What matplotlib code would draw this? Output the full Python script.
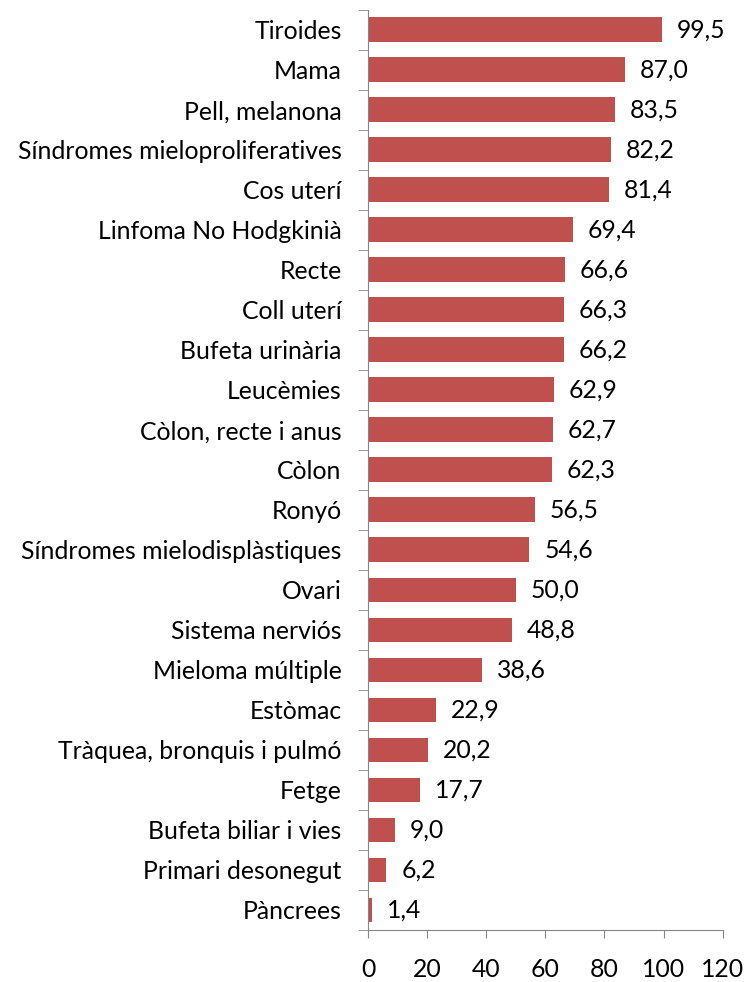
import matplotlib
matplotlib.use('Agg')
import matplotlib.pyplot as plt
import numpy as np

categories = ['Tiroides', 'Mama', 'Pell, melanona', 'Síndromes mieloproliferatives',
              'Cos uterí', 'Linfoma No Hodgkinià', 'Recte', 'Coll uterí',
              'Bufeta urinària', 'Leucèmies', 'Còlon, recte i anus', 'Còlon',
              'Ronyó', 'Síndromes mielodisplàstiques', 'Ovari', 'Sistema nerviós',
              'Mieloma múltiple', 'Estòmac', 'Tràquea, bronquis i pulmó', 'Fetge',
              'Bufeta biliar i vies', 'Primari desonegut', 'Pàncrees']
values = [99.5, 87.0, 83.5, 82.2, 81.4, 69.4, 66.6, 66.3, 66.2, 62.9, 62.7, 62.3,
          56.5, 54.6, 50.0, 48.8, 38.6, 22.9, 20.2, 17.7, 9.0, 6.2, 1.4]
xticks = [0, 20, 40, 60, 80, 100, 120]

plt.rcParams['font.family'] = ['Lato', 'DejaVu Sans']
fs = 17.8

fig = plt.figure(figsize=(7.45, 9.82), dpi=100)
ax = fig.add_axes([0.494, 0.053, 0.476, 0.937])

n = len(categories)
y = np.arange(n)[::-1]
ax.barh(y, values, height=0.62, color='#C0504D')

for yi, v in zip(y, values):
    ax.text(v + 5.0, yi, ('%.1f' % v).replace('.', ','), va='center', ha='left',
            fontsize=fs, color='black')

ax.set_xlim(0, 120)
ax.set_ylim(-0.5, n - 0.5)
ax.set_xticks(xticks)
ax.set_xticklabels([str(t) for t in xticks], fontsize=fs)
ax.set_yticks(y)
ax.set_yticklabels(categories, fontsize=fs)
ax.set_yticks(np.arange(n + 1) - 0.5, minor=True)
ax.tick_params(axis='y', which='major', length=0, pad=19)
ax.tick_params(axis='y', which='minor', length=7, color='#868686')
ax.tick_params(axis='x', length=6, color='#868686', pad=14)

for s in ['top', 'right']:
    ax.spines[s].set_visible(False)
ax.spines['left'].set_color('#868686')
ax.spines['bottom'].set_color('#868686')

plt.savefig('out.png', dpi=100)
